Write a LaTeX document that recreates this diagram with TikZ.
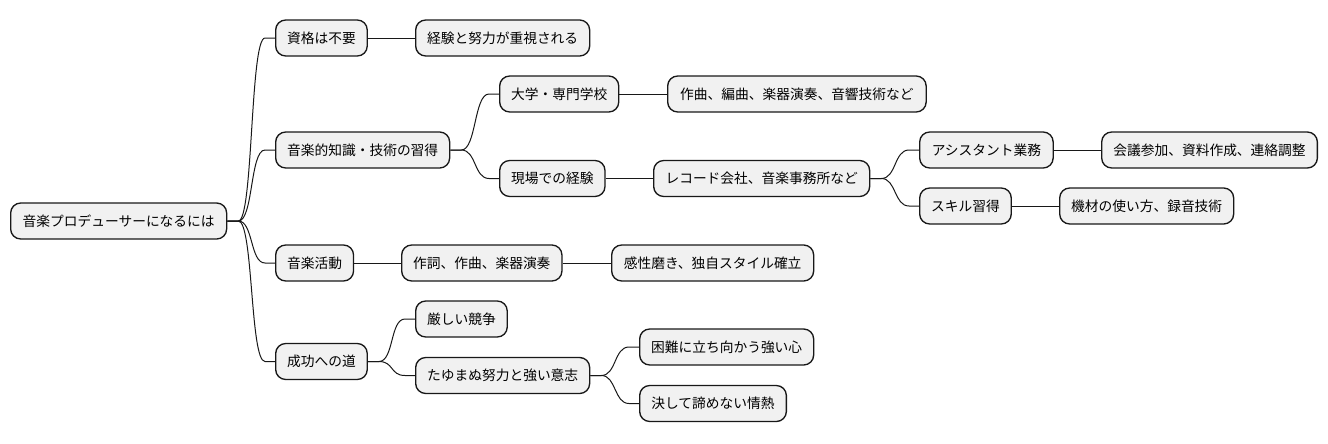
\documentclass[tikz,border=0pt]{standalone}
\usepackage{fontspec}
\setmainfont{Noto Sans CJK JP}
\usetikzlibrary{calc}
\definecolor{boxfill}{HTML}{F1F1F1}
\definecolor{boxline}{HTML}{181818}
\tikzset{
  mm/.style={draw=boxline, fill=boxfill, line width=1pt, rounded corners=7.5pt,
    anchor=west, minimum height=27pt, inner xsep=8.6pt, inner ysep=0pt,
    font=\fontsize{10.3}{12}\selectfont, text=black},
  mw/.style={minimum width=#1*0.75pt},
  edge/.style={draw=boxline, line width=0.75pt}
}
\newcommand\curvelink[2]{%
  \draw[edge] (#1.east) -- ++(11,0) .. controls ($(#1.east)+(26,0)$) and ($(#2.west)+(-25,0)$) .. ($(#2.west)+(-10,0)$) -- (#2.west);}
\begin{document}
\begin{tikzpicture}[x=0.75pt,y=-0.75pt]
\useasboundingbox (0,0) rectangle (1328,443);
\node[mm,mw=216] (root) at (10,221) {音楽プロデューサーになるには};
\node[mm,mw=90.5] (A) at (275,38) {資格は不要};
\node[mm,mw=174] (A1) at (415,38) {経験と努力が重視される};
\node[mm,mw=174] (B) at (275,150) {音楽的知識・技術の習得};
\node[mm,mw=118] (B1) at (499,94) {大学・専門学校};
\node[mm,mw=258.5] (B1a) at (667,94) {作曲、編曲、楽器演奏、音響技術など};
\node[mm,mw=103.5] (B2) at (499,178.5) {現場での経験};
\node[mm,mw=216] (B2a) at (653,178.5) {レコード会社、音楽事務所など};
\node[mm,mw=133.5] (B2a1) at (919,150) {アシスタント業務};
\node[mm,mw=215.7] (B2a1a) at (1101,150) {会議参加、資料作成、連絡調整};
\node[mm,mw=89] (B2a2) at (919,206) {スキル習得};
\node[mm,mw=173.7] (B2a2a) at (1059,206) {機材の使い方、録音技術};
\node[mm,mw=76] (C) at (275,263) {音楽活動};
\node[mm,mw=160] (C1) at (401,263) {作詞、作曲、楽器演奏};
\node[mm,mw=202] (C1a) at (611,263) {感性磨き、独自スタイル確立};
\node[mm,mw=90] (D) at (275,361.5) {成功への道};
\node[mm,mw=90] (D1) at (415,319) {厳しい競争};
\node[mm,mw=174] (D2) at (415,375.5) {たゆまぬ努力と強い意志};
\node[mm,mw=174] (D2a) at (639,347) {困難に立ち向かう強い心};
\node[mm,mw=146.7] (D2b) at (639,403.5) {決して諦めない情熱};
\curvelink{root}{A}
\curvelink{root}{B}
\curvelink{root}{C}
\curvelink{root}{D}
\curvelink{B}{B1}
\curvelink{B}{B2}
\curvelink{B2a}{B2a1}
\curvelink{B2a}{B2a2}
\curvelink{D}{D1}
\curvelink{D}{D2}
\curvelink{D2}{D2a}
\curvelink{D2}{D2b}
\draw[edge] (A) -- (A1);
\draw[edge] (B1) -- (B1a);
\draw[edge] (B2) -- (B2a);
\draw[edge] (B2a1) -- (B2a1a);
\draw[edge] (B2a2) -- (B2a2a);
\draw[edge] (C) -- (C1);
\draw[edge] (C1) -- (C1a);
\end{tikzpicture}
\end{document}
